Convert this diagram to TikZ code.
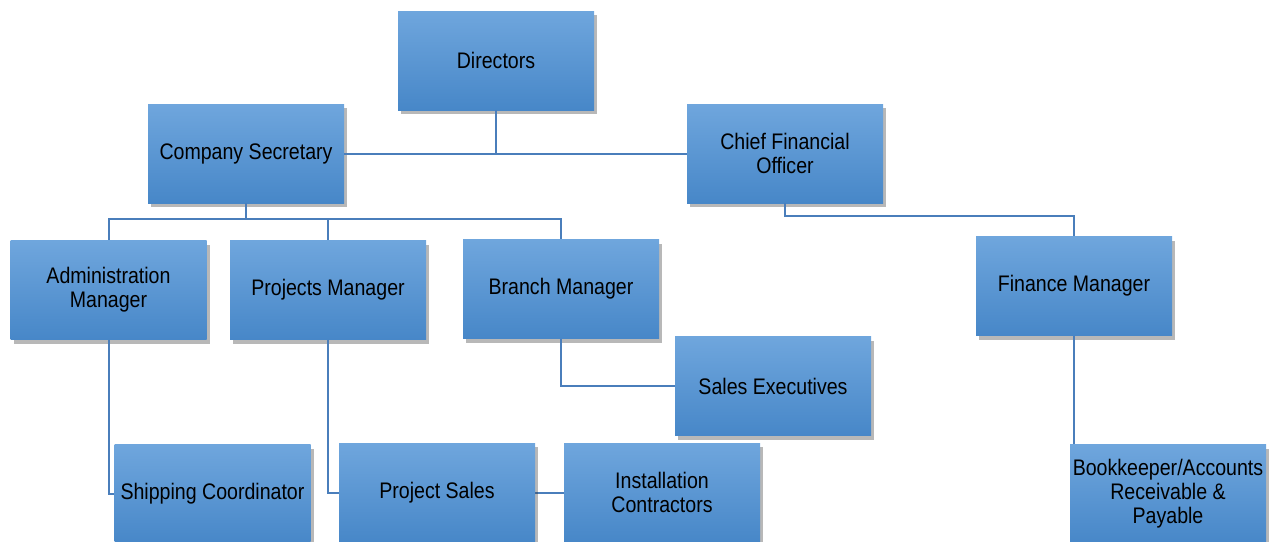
\documentclass[tikz,border=0pt]{standalone}
\usepackage{fontspec}
\setmainfont{Liberation Sans}[FakeStretch=0.87]
\usetikzlibrary{shadows}
\definecolor{boxtop}{HTML}{6FA6DD}
\definecolor{boxbot}{HTML}{4787C8}
\definecolor{linkblue}{HTML}{4A7EBB}

\begin{document}
\begin{tikzpicture}[x=1pt,y=-1pt,
  box/.style={rectangle,top color=boxtop,bottom color=boxbot,
    minimum width=196pt,minimum height=99pt,inner sep=2pt,align=center,
    font=\fontsize{22.5}{24}\selectfont,
    drop shadow={shadow xshift=3pt,shadow yshift=-4pt,opacity=0.35,fill=black!80}},
  link/.style={draw=linkblue,line width=2pt}]
\useasboundingbox (0,0) rectangle (1277,541);
% centres of the boxes
\coordinate (dirc) at (496,60.5);
\coordinate (csc) at (246,153.5);
\coordinate (cfoc) at (785,153.5);
\coordinate (admc) at (108.5,290);
\coordinate (pmc) at (328,290);
\coordinate (bmc) at (561,289);
\coordinate (fmc) at (1074,286);
\coordinate (sec) at (773,386);
\coordinate (shipc) at (212.5,494);
\coordinate (psc) at (437,492.5);
\coordinate (icc) at (662,492.5);
\coordinate (bkc) at (1168,494);

\node[box] (dir) at (dirc) {Directors};
\node[box] (cs) at (csc) {Company Secretary};
\node[box] (cfo) at (cfoc) {Chief Financial\\Officer};
\node[box] (adm) at (admc) {Administration\\Manager};
\node[box] (pm) at (pmc) {Projects Manager};
\node[box] (bm) at (bmc) {Branch Manager};
\node[box] (fm) at (fmc) {Finance Manager};
\node[box] (se) at (sec) {Sales Executives};

% connectors, bottom row drawn over them
\draw[link] (dir.south) |- (cs.east);
\draw[link] (dir.south) |- (cfo.west);
\draw[link] (cs.south) -- ++(0,16) -| (adm.north);
\draw[link] (cs.south) -- ++(0,16) -| (pm.north);
\draw[link] (cs.south) -- ++(0,16) -| (bm.north);
\draw[link] (cfo.south) -- ++(0,13) -| (fm.north);
\draw[link] (bm.south) |- (se.west);
\draw[link] (adm.south) |- (shipc);
\draw[link] (pm.south) |- (psc);
\draw[link] (psc) -- (icc);
\draw[link] (fm.south) |- (bkc);

\node[box] (ship) at (shipc) {Shipping Coordinator};
\node[box] (ps) at (psc) {Project Sales};
\node[box] (ic) at (icc) {Installation\\Contractors};
\node[box] (bk) at (bkc) {Bookkeeper/Accounts\\Receivable \&\\Payable};
\end{tikzpicture}
\end{document}
